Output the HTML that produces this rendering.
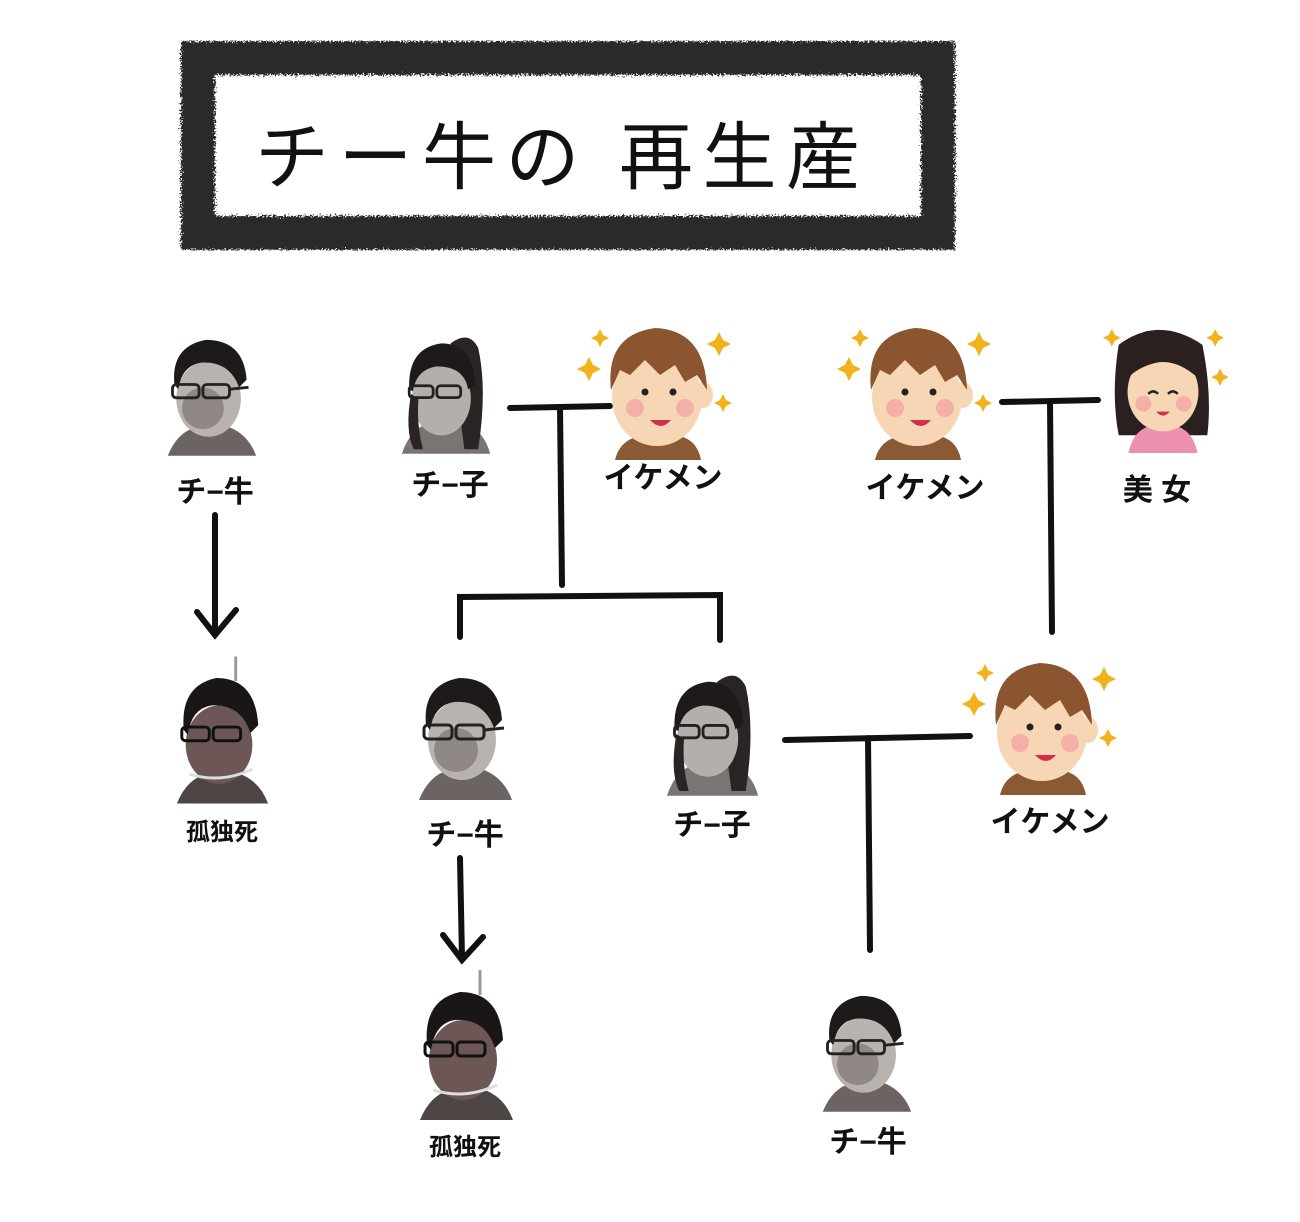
<!DOCTYPE html>
<html><head><meta charset="utf-8"><style>
html,body{margin:0;padding:0;background:#fff}
svg{display:block}
text{font-family:"Liberation Sans","Noto Sans CJK JP",sans-serif;font-weight:bold;fill:#111}
</style></head><body>
<svg width="1300" height="1222" viewBox="0 0 1300 1222" xmlns="http://www.w3.org/2000/svg">
<defs>
<filter id="rough"><feTurbulence type="fractalNoise" baseFrequency="0.6" numOctaves="2" result="n"/><feDisplacementMap in="SourceGraphic" in2="n" scale="10"/></filter>
<symbol id="chi" viewBox="0 0 100 130">
 <path d="M5 130 Q15 105 35 100 L70 100 Q90 108 98 130Z" fill="#6b6462"/>
 <ellipse cx="48" cy="70" rx="34" ry="40" fill="#b9b3b0"/>
 <ellipse cx="42" cy="80" rx="22" ry="22" fill="#8f8885"/>
 <path d="M12 55 Q8 15 45 8 Q85 8 88 50 L80 58 Q70 30 40 32 Q20 35 16 60Z" fill="#1e1a1a"/>
 <rect x="10" y="55" width="28" height="14" rx="4" fill="none" stroke="#222" stroke-width="3"/>
 <rect x="42" y="55" width="28" height="14" rx="4" fill="none" stroke="#222" stroke-width="3"/>
 <line x1="70" y1="60" x2="90" y2="58" stroke="#222" stroke-width="3"/>
</symbol>
<symbol id="chiko" viewBox="0 0 100 130">
 <path d="M2 130 Q12 100 35 96 L70 96 Q92 106 98 130Z" fill="#7a7472"/>
 <path d="M55 10 Q75 -5 85 15 Q95 60 85 125 L70 125 Z" fill="#2a2424"/>
 <ellipse cx="45" cy="70" rx="32" ry="40" fill="#b5afac"/>
 <path d="M10 60 Q8 15 45 10 Q80 10 82 55 L74 60 Q70 35 40 35 Q18 38 14 62Z" fill="#1e1a1a"/>
 <path d="M12 65 Q5 105 15 125 L25 125 Q18 100 20 70Z" fill="#2a2424"/>
 <rect x="10" y="56" width="26" height="13" rx="4" fill="none" stroke="#222" stroke-width="3"/>
 <rect x="40" y="56" width="26" height="13" rx="4" fill="none" stroke="#222" stroke-width="3"/>
</symbol>
<symbol id="dead" viewBox="0 0 100 150">
 <line x1="65" y1="0" x2="65" y2="25" stroke="#999" stroke-width="3"/>
 <path d="M5 150 Q15 125 35 120 L70 120 Q90 128 98 150Z" fill="#4e4644"/>
 <ellipse cx="48" cy="90" rx="34" ry="40" fill="#6c5656"/>
 <path d="M12 75 Q8 30 45 22 Q85 22 88 70 L80 78 Q70 48 40 50 Q20 53 16 80Z" fill="#1a1616"/>
 <rect x="10" y="72" width="28" height="14" rx="4" fill="none" stroke="#111" stroke-width="3"/>
 <rect x="42" y="72" width="28" height="14" rx="4" fill="none" stroke="#111" stroke-width="3"/>
 <path d="M18 120 Q50 130 82 115" stroke="#ddd" stroke-width="3" fill="none"/>
</symbol>
<symbol id="ike" viewBox="0 0 160 140">
 <path d="M40 140 Q45 118 70 115 L100 115 Q122 118 126 140Z" fill="#8a5a35"/>
 <ellipse cx="82" cy="78" rx="45" ry="48" fill="#f7d6b5"/>
 <ellipse cx="128" cy="75" rx="10" ry="13" fill="#f7d6b5"/>
 <path d="M36 70 Q30 15 80 8 Q130 10 132 70 L122 55 L110 62 L100 45 L85 55 L70 40 L55 55 L45 50 Z" fill="#8b5530"/>
 <circle cx="60" cy="88" r="9" fill="#f4b0a8"/><circle cx="110" cy="88" r="9" fill="#f4b0a8"/>
 <circle cx="70" cy="72" r="3.5" fill="#222"/><circle cx="98" cy="72" r="3.5" fill="#222"/>
 <path d="M75 100 Q86 112 96 100Z" fill="#d0304a"/>
 <path d="M10 45 l4 -8 l4 8 l8 4 l-8 4 l-4 8 l-4 -8 l-8 -4Z" fill="#f2b21c"/>
 <path d="M140 20 l4 -8 l4 8 l8 4 l-8 4 l-4 8 l-4 -8 l-8 -4Z" fill="#f2b21c"/>
 <path d="M22 15 l3 -6 l3 6 l6 3 l-6 3 l-3 6 l-3 -6 l-6 -3Z" fill="#f2b21c"/>
 <path d="M145 80 l3 -6 l3 6 l6 3 l-6 3 l-3 6 l-3 -6 l-6 -3Z" fill="#f2b21c"/>
</symbol>
<symbol id="bijo" viewBox="0 0 130 130">
 <path d="M20 20 Q60 -10 105 20 Q115 70 110 112 L20 112 Q12 70 20 20Z" fill="#2a2020"/>
 <path d="M30 130 Q35 105 55 102 L75 102 Q95 105 100 130Z" fill="#ec8fb0"/>
 <ellipse cx="65" cy="68" rx="36" ry="40" fill="#f7d6b5"/>
 <path d="M28 55 Q35 20 65 20 Q95 20 102 55 Q80 35 60 38 Q40 42 28 55Z" fill="#2a2020"/>
 <circle cx="45" cy="80" r="8" fill="#f4b0a8"/><circle cx="86" cy="80" r="8" fill="#f4b0a8"/>
 <path d="M50 70 q5 -5 10 0 M70 70 q5 -5 10 0" stroke="#222" stroke-width="2.5" fill="none"/>
 <path d="M58 88 Q65 96 72 88Z" fill="#d0304a"/>
 <path d="M10 10 l3 -6 l3 6 l6 3 l-6 3 l-3 6 l-3 -6 l-6 -3Z" fill="#f2b21c"/>
 <path d="M115 10 l3 -6 l3 6 l6 3 l-6 3 l-3 6 l-3 -6 l-6 -3Z" fill="#f2b21c"/>
 <path d="M120 50 l3 -6 l3 6 l6 3 l-6 3 l-3 6 l-3 -6 l-6 -3Z" fill="#f2b21c"/>
</symbol>
</defs>

<!-- title frame -->
<rect x="198" y="58" width="740" height="175" fill="none" stroke="#2a2a2a" stroke-width="34" filter="url(#rough)"/>
<text x="255" y="183" font-size="74" textLength="605" lengthAdjust="spacing" style="font-weight:normal">チー牛の 再生産</text>

<!-- lines -->
<g stroke="#111" stroke-width="6" fill="none" stroke-linecap="round">
 <path d="M510 408 L610 406 M560 408 L562 585 M460 637 L460 597 L720 595 L720 640"/>
 <path d="M1002 402 L1098 400 M1050 402 L1052 632"/>
 <path d="M785 740 L970 736 M868 738 L870 950"/>
 <path d="M215 515 L215 633 M197 612 L215 635 L236 610"/>
 <path d="M460 858 L462 958 M443 935 L462 960 L483 937"/>
</g>

<use href="#chi" x="163" y="330" width="95" height="128"/>
<use href="#chiko" x="400" y="330" width="92" height="128"/>
<use href="#ike" x="570" y="320" width="170" height="140"/>
<use href="#ike" x="830" y="320" width="170" height="140"/>
<use href="#bijo" x="1098" y="325" width="130" height="128"/>
<use href="#dead" x="172" y="655" width="98" height="150"/>
<use href="#chi" x="414" y="670" width="100" height="130"/>
<use href="#chiko" x="665" y="668" width="95" height="132"/>
<use href="#ike" x="955" y="655" width="170" height="140"/>
<use href="#dead" x="415" y="970" width="100" height="150"/>
<use href="#chi" x="818" y="985" width="95" height="130"/>

<g font-size="30" text-anchor="middle">
 <text x="215" y="502">チ−牛</text>
 <text x="450" y="495">チ−子</text>
 <text x="663" y="488">イケメン</text>
 <text x="925" y="498">イケメン</text>
 <text x="1157" y="500">美 女</text>
 <text x="222" y="840" font-size="24">孤独死</text>
 <text x="465" y="845">チ−牛</text>
 <text x="712" y="835">チ−子</text>
 <text x="1050" y="832">イケメン</text>
 <text x="465" y="1155" font-size="24">孤独死</text>
 <text x="868" y="1152">チ−牛</text>
</g>
</svg>
</body></html>
